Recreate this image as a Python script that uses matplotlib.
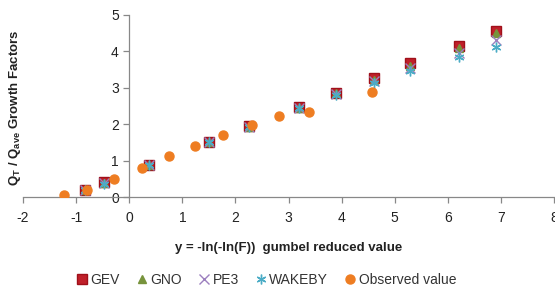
import matplotlib
matplotlib.use("Agg")
import matplotlib.pyplot as plt

plt.rcParams['font.family'] = ['Liberation Sans', 'DejaVu Sans']
plt.rcParams['axes.unicode_minus'] = False

# Gumbel reduced variate for model quantiles
y_model = [-0.834, -0.476, 0.367, 1.500, 2.250, 3.199, 3.902, 4.600, 5.296, 6.214, 6.907]
gev    = [0.20, 0.40, 0.88, 1.52, 1.94, 2.47, 2.86, 3.27, 3.66, 4.13, 4.55]
gno    = [0.19, 0.39, 0.88, 1.51, 1.93, 2.45, 2.84, 3.22, 3.60, 4.08, 4.49]
pe3    = [0.19, 0.39, 0.88, 1.51, 1.93, 2.44, 2.82, 3.19, 3.54, 3.96, 4.30]
wakeby = [0.18, 0.37, 0.87, 1.51, 1.93, 2.43, 2.79, 3.12, 3.44, 3.84, 4.12]

obs_x = [-1.22, -0.80, -0.28, 0.24, 0.75, 1.24, 1.76, 2.32, 2.82, 3.39, 4.58]
obs_y = [0.05, 0.20, 0.48, 0.79, 1.12, 1.39, 1.70, 1.98, 2.21, 2.34, 2.88]

x_ticks = [-2, -1, 0, 1, 2, 3, 4, 5, 6, 7, 8]
y_ticks = [0, 1, 2, 3, 4, 5]

fig = plt.figure(figsize=(5.55, 2.91), dpi=100)
ax = fig.add_axes([0.0414, 0.323, 0.957, 0.627])

ax.plot(y_model, gev, linestyle='none', marker='s', markersize=6.5,
        color='#C0202A', markeredgecolor='#A0101A', label='GEV', zorder=3)
ax.plot(y_model, gno, linestyle='none', marker='^', markersize=6,
        color='#77933C', markeredgecolor='#77933C', label='GNO', zorder=4)
ax.plot(y_model, pe3, linestyle='none', marker='x', markersize=6.5,
        color='#9C7FBF', markeredgewidth=1.0, label='PE3', zorder=5)
ax.plot(y_model, wakeby, linestyle='none', marker=(6, 2, 0), markersize=7,
        color='#4BACC6', markeredgewidth=1.0, label='WAKEBY', zorder=6)
ax.plot(obs_x, obs_y, linestyle='none', marker='o', markersize=6.5,
        color='#EE7D22', markeredgecolor='#EE7D22', label='Observed value', zorder=7)

ax.set_xlim(-2, 8)
ax.set_ylim(0, 5)
ax.set_xticks(x_ticks)
ax.set_yticks(y_ticks)

for s in ['top', 'right']:
    ax.spines[s].set_visible(False)
ax.spines['left'].set_position(('data', 0))
ax.spines['bottom'].set_position(('data', 0))
for s in ['left', 'bottom']:
    ax.spines[s].set_color('#888888')
    ax.spines[s].set_linewidth(0.9)
ax.tick_params(axis='both', direction='out', length=4, color='#888888',
               labelsize=10, labelcolor='#222222', width=0.9)
ax.tick_params(axis='x', pad=6)

ax.set_xlabel('y = -ln(-ln(F))  gumbel reduced value', fontsize=9.5,
              fontweight='bold', color='#222222', labelpad=12)
fig.text(0.027, 0.63, r'Q$_\mathregular{T}$ / Q$_\mathregular{ave}$ Growth Factors',
         rotation=90, ha='center', va='center', fontsize=9.5, fontweight='bold',
         color='#222222')

leg = fig.legend(loc='center', bbox_to_anchor=(0.48, 0.038), ncol=5,
                 frameon=False, fontsize=10, handlelength=0.8, handletextpad=0.2,
                 columnspacing=1.2, borderaxespad=0)
for t in leg.get_texts():
    t.set_color('#333333')

fig.savefig('out.png', dpi=100)
